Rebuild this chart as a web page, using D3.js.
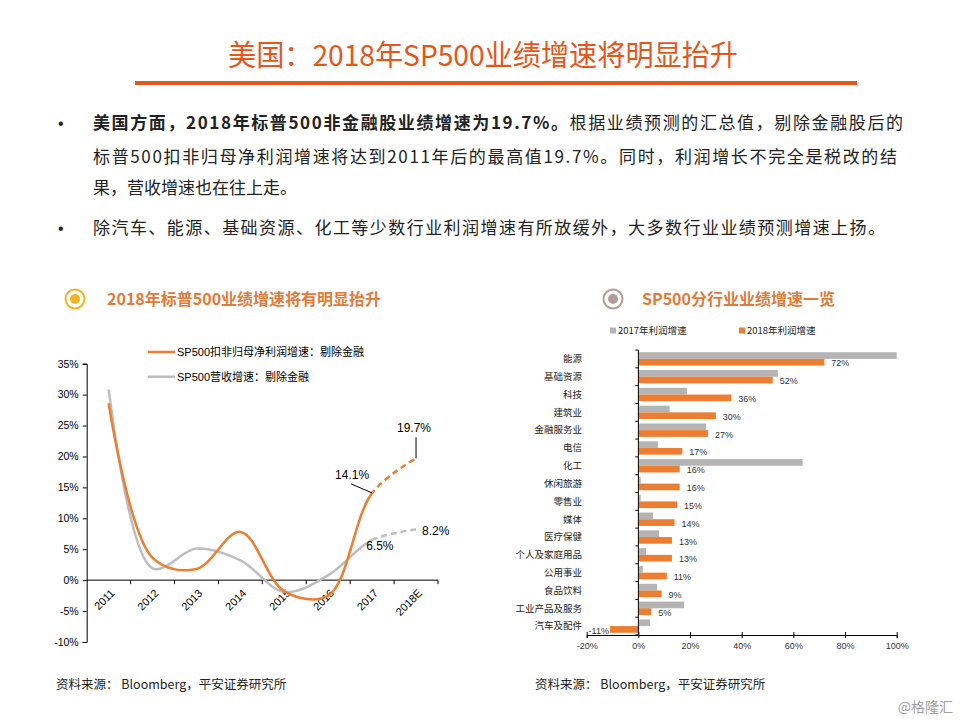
<!DOCTYPE html>
<html><head><meta charset="utf-8">
<script src="https://cdn.jsdelivr.net/npm/d3@7"></script>
<style>
html,body{margin:0;padding:0;background:#fff;}
svg{display:block;}
</style></head>
<body>
<svg id="c" width="960" height="720"></svg>
<script>
// ---------- data ----------
const years = ["2011","2012","2013","2014","2015","2016","2017","2018E"];
const profitGrowth = [28.6, 3.6, 1.8, 7.8, -1.8, -2.5, 14.1, 19.7];
const revenueGrowth = [30.8, 1.9, 5.1, 3.2, -1.9, 0.8, 6.5, 8.2];
const lineSeriesNames = ["SP500扣非归母净利润增速：剔除金融", "SP500营收增速：剔除金融"];
const leftTicks = [-10, -5, 0, 5, 10, 15, 20, 25, 30, 35];

const sectors = ["能源","基础资源","科技","建筑业","金融服务业","电信","化工","休闲旅游","零售业","媒体","医疗保健","个人及家庭用品","公用事业","食品饮料","工业产品及服务","汽车及配件"];
const growth2017 = [100, 54, 18.8, 12.1, 26.2, 7.6, 63.6, 0.9, 0.9, 5.7, 8.0, 3.0, 1.7, 7.2, 17.7, 4.5];
const growth2018 = [72, 52, 36, 30, 27, 17, 16, 16, 15, 14, 13, 13, 11, 9, 5, -11];
const barSeriesNames = ["2017年利润增速", "2018年利润增速"];
const rightTicks = [-20, 0, 20, 40, 60, 80, 100];

const ORANGE = "#ED7D31", GRAY = "#B4B4B4", LINEGRAY = "#BDBDBD";
const CJK = "'Noto Sans CJK SC', sans-serif";
const LAT = "'Liberation Sans', Arial, 'Noto Sans CJK SC', sans-serif";

const svg = d3.select("#c");
svg.append("rect").attr("width",960).attr("height",720).attr("fill","#fff");

// ---------- header ----------
svg.append("text").attr("x",483).attr("y",56).attr("dy","0.35em")
  .attr("text-anchor","middle").attr("font-family",CJK).attr("font-size",29)
  .attr("fill","#E5561C").attr("textLength",510).attr("lengthAdjust","spacingAndGlyphs")
  .text("美国：2018年SP500业绩增速将明显抬升");
svg.append("rect").attr("x",135).attr("y",81).attr("width",722).attr("height",4).attr("fill","#E5561C");

// ---------- bullets ----------
const bx = 93;
function bullet(y){ svg.append("text").attr("x",58).attr("y",y).attr("dy","0.35em").attr("font-family",LAT).attr("font-size",16).attr("fill","#222").text("•"); }
bullet(123); bullet(228);
const l1 = svg.append("text").attr("x",bx).attr("y",123).attr("dy","0.35em").attr("font-family",CJK).attr("font-size",17).attr("fill","#222")
  .attr("textLength",810).attr("lengthAdjust","spacing");
l1.append("tspan").attr("font-weight","bold").text("美国方面，2018年标普500非金融股业绩增速为19.7%。");
l1.append("tspan").text("根据业绩预测的汇总值，剔除金融股后的");
svg.append("text").attr("x",bx).attr("y",157).attr("dy","0.35em").attr("font-family",CJK).attr("font-size",17).attr("fill","#222")
  .attr("textLength",804).attr("lengthAdjust","spacing")
  .text("标普500扣非归母净利润增速将达到2011年后的最高值19.7%。同时，利润增长不完全是税改的结");
svg.append("text").attr("x",bx).attr("y",188).attr("dy","0.35em").attr("font-family",CJK).attr("font-size",17).attr("fill","#222")
  .text("果，营收增速也在往上走。");
svg.append("text").attr("x",bx).attr("y",228).attr("dy","0.35em").attr("font-family",CJK).attr("font-size",17).attr("fill","#222")
  .attr("textLength",792).attr("lengthAdjust","spacing")
  .text("除汽车、能源、基础资源、化工等少数行业利润增速有所放缓外，大多数行业业绩预测增速上扬。");

// ---------- section titles ----------
function sectionTitle(cx, color, txt, tx){
  svg.append("circle").attr("cx",cx).attr("cy",299).attr("r",9.5).attr("fill","none").attr("stroke",color).attr("stroke-width",2);
  svg.append("circle").attr("cx",cx).attr("cy",299).attr("r",5).attr("fill",color);
  svg.append("text").attr("x",tx).attr("y",299).attr("dy","0.35em").attr("font-family",CJK).attr("font-weight","bold")
    .attr("font-size",16).attr("fill","#E07B39").text(txt);
}
sectionTitle(75, "#F5B520", "2018年标普500业绩增速将有明显抬升", 107);
sectionTitle(613, "#B39C97", "SP500分行业业绩增速一览", 642);

// ---------- left line chart ----------
const xL = d3.scaleBand().domain(years).range([86.7, 438]).padding(0);
const yL = d3.scaleLinear().domain([-10, 35]).range([642, 363.7]);
const gL = svg.append("g");

// y axis
gL.append("g").attr("transform","translate(86.7,0)")
  .call(d3.axisLeft(yL).tickValues(leftTicks).tickSize(4).tickFormat(d => d + "%"))
  .call(g => { g.select(".domain").attr("stroke","#000"); g.selectAll("line").attr("stroke","#000");
    g.selectAll("text").attr("font-family",LAT).attr("font-size",10.5).attr("fill","#000").attr("x",-8); });
// x axis at 0
const xAx = gL.append("g").attr("transform",`translate(0,${yL(0)})`);
xAx.append("line").attr("x1",86.7).attr("x2",438).attr("stroke","#000");
const bounds = years.map(d => xL(d) + xL.bandwidth());
xAx.selectAll("line.tk").data(bounds).join("line").attr("class","tk")
  .attr("x1",d=>d).attr("x2",d=>d).attr("y1",0).attr("y2",4).attr("stroke","#000");
xAx.selectAll("text").data(years).join("text")
  .attr("transform", d => `translate(${xL(d)+xL.bandwidth()/2+4},11) rotate(-45)`)
  .attr("text-anchor","end").attr("dy","0.35em")
  .attr("font-family",LAT).attr("font-size",11).attr("fill","#000").text(d=>d);

const cx = d => xL(d) + xL.bandwidth()/2;
const defs = svg.append("defs");
const splitX = cx("2017");
defs.append("clipPath").attr("id","solidClip").append("rect").attr("x",0).attr("y",0).attr("width",splitX).attr("height",720);
defs.append("clipPath").attr("id","dashClip").append("rect").attr("x",splitX).attr("y",0).attr("width",960-splitX).attr("height",720);

function drawSeries(vals, color){
  const line = d3.line().x((d,i)=>cx(years[i])).y(d=>yL(d)).curve(d3.curveCatmullRom.alpha(0.5));
  gL.append("path").attr("d",line(vals)).attr("fill","none").attr("stroke",color).attr("stroke-width",2.5)
    .attr("clip-path","url(#solidClip)");
  gL.append("path").attr("d",line(vals)).attr("fill","none").attr("stroke",color).attr("stroke-width",2.5)
    .attr("stroke-dasharray","6,4").attr("clip-path","url(#dashClip)");
}
drawSeries(revenueGrowth, LINEGRAY);
drawSeries(profitGrowth, ORANGE);

// legend
[[ORANGE, 352],[LINEGRAY, 376.7]].forEach((d,i)=>{
  gL.append("line").attr("x1",148).attr("x2",175).attr("y1",d[1]).attr("y2",d[1]).attr("stroke",d[0]).attr("stroke-width",2.5);
  gL.append("text").attr("x",177).attr("y",d[1]).attr("dy","0.35em").attr("font-family",LAT).attr("font-size",11).attr("fill","#000").text(lineSeriesNames[i]);
});

// data labels
const last = years.length-1;
const p17 = [cx(years[6]), yL(profitGrowth[6])], p18 = [cx(years[last]), yL(profitGrowth[last])];
gL.append("line").attr("x1",p18[0]).attr("x2",p18[0]).attr("y1",p18[1]-21).attr("y2",p18[1]).attr("stroke","#000");
gL.append("text").attr("x",p18[0]-2).attr("y",p18[1]-31).attr("dy","0.35em").attr("text-anchor","middle")
  .attr("font-family",LAT).attr("font-size",12).attr("fill","#000").text(profitGrowth[last].toFixed(1)+"%");
gL.append("line").attr("x1",p17[0]-21).attr("x2",p17[0]).attr("y1",p17[1]-9).attr("y2",p17[1]).attr("stroke","#000");
gL.append("text").attr("x",p17[0]-20).attr("y",p17[1]-18).attr("dy","0.35em").attr("text-anchor","middle")
  .attr("font-family",LAT).attr("font-size",12).attr("fill","#000").text(profitGrowth[6].toFixed(1)+"%");
gL.append("text").attr("x",cx(years[6])-6).attr("y",yL(revenueGrowth[6])+6).attr("dy","0.35em")
  .attr("font-family",LAT).attr("font-size",12).attr("fill","#000").text(revenueGrowth[6].toFixed(1)+"%");
gL.append("text").attr("x",cx(years[last])+6).attr("y",yL(revenueGrowth[last])+1).attr("dy","0.35em")
  .attr("font-family",LAT).attr("font-size",12).attr("fill","#000").text(revenueGrowth[last].toFixed(1)+"%");

// ---------- right bar chart ----------
const xR = d3.scaleLinear().domain([-20, 100]).range([586.7, 896.7]);
const yR = d3.scaleBand().domain(sectors).range([350, 635]).paddingInner(0.25).paddingOuter(0.125);
const ySub = d3.scaleBand().domain([0,1]).range([0, yR.bandwidth()]);
const gR = svg.append("g");

gR.selectAll("rect.g17").data(sectors).join("rect").attr("class","g17")
  .attr("x",(d,i)=>xR(Math.min(0,growth2017[i]))).attr("y",d=>yR(d)+ySub(0))
  .attr("width",(d,i)=>Math.abs(xR(growth2017[i])-xR(0))).attr("height",ySub.bandwidth()).attr("fill",GRAY);
gR.selectAll("rect.g18").data(sectors).join("rect").attr("class","g18")
  .attr("x",(d,i)=>xR(Math.min(0,growth2018[i]))).attr("y",d=>yR(d)+ySub(1))
  .attr("width",(d,i)=>Math.abs(xR(growth2018[i])-xR(0))).attr("height",ySub.bandwidth()).attr("fill",ORANGE);
gR.selectAll("text.v").data(sectors).join("text").attr("class","v")
  .attr("x",(d,i)=> growth2018[i] >= 0 ? xR(growth2018[i]) + 7 : xR(growth2018[i]) - 1)
  .attr("y",d=>yR(d)+ySub(1)+ySub.bandwidth()/2+1).attr("dy","0.35em")
  .attr("text-anchor",(d,i)=> growth2018[i] >= 0 ? "start" : "end")
  .attr("font-family",LAT).attr("font-size",9).attr("fill","#333")
  .text((d,i)=>growth2018[i]+"%");

// y axis (at 0)
const yAxG = gR.append("g");
yAxG.append("line").attr("x1",xR(0)).attr("x2",xR(0)).attr("y1",350).attr("y2",635).attr("stroke","#000");
yAxG.selectAll("line.tk").data(d3.range(sectors.length+1)).join("line").attr("class","tk")
  .attr("x1",xR(0)-3).attr("x2",xR(0)).attr("y1",i=>350+i*(285/sectors.length)).attr("y2",i=>350+i*(285/sectors.length)).attr("stroke","#000");
yAxG.selectAll("text").data(sectors).join("text")
  .attr("x",582).attr("y",d=>yR(d)+yR.bandwidth()/2).attr("dy","0.35em").attr("text-anchor","end")
  .attr("font-family",CJK).attr("font-size",9.5).attr("fill","#222").text(d=>d);

// x axis
gR.append("g").attr("transform","translate(0,635)")
  .call(d3.axisBottom(xR).tickValues(rightTicks).tickSize(3).tickFormat(d=>d+"%"))
  .call(g => { g.select(".domain").attr("stroke","#000"); g.selectAll("line").attr("stroke","#000").attr("y1",-3).attr("y2",3);
    g.selectAll("text").attr("font-family",LAT).attr("font-size",9).attr("fill","#333").attr("y",8); });

// legend
[[GRAY,610,barSeriesNames[0]],[ORANGE,739,barSeriesNames[1]]].forEach(d=>{
  gR.append("rect").attr("x",d[1]).attr("y",327.5).attr("width",6).attr("height",6).attr("fill",d[0]);
  gR.append("text").attr("x",d[1]+8).attr("y",331).attr("dy","0.35em").attr("font-family",CJK).attr("font-size",9.5).attr("fill","#222").text(d[2]);
});

// ---------- footers ----------
[56, 535].forEach(x=>{
  svg.append("text").attr("x",x).attr("y",685).attr("dy","0.35em").attr("font-family",CJK).attr("font-size",12.5).attr("fill","#222")
    .text("资料来源： Bloomberg，平安证券研究所");
});
svg.append("text").attr("x",953).attr("y",707).attr("dy","0.35em").attr("text-anchor","end").attr("font-family",CJK)
  .attr("font-size",14).attr("fill","#A0A0A0").text("@格隆汇");
</script>
</body></html>
